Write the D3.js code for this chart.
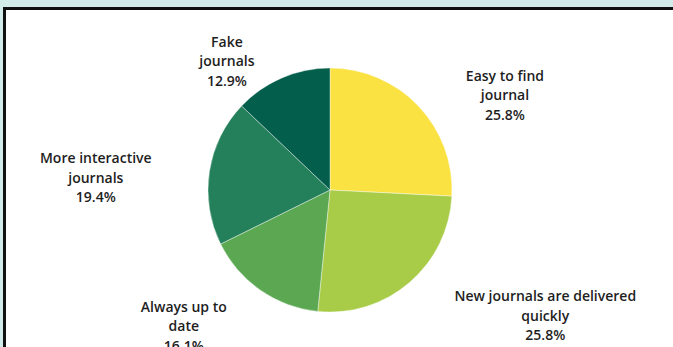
<!DOCTYPE html>
<html>
<head>
<meta charset="utf-8">
<script src="https://cdn.jsdelivr.net/npm/d3@7"></script>
<style>
  html, body { margin: 0; padding: 0; background: #d2ecea; }
  svg { display: block; }
</style>
</head>
<body>
<svg id="chart" width="673" height="347"></svg>
<script>
// Survey answers: what readers value in a journal service
const categories = [
  ["Easy to find", "journal"],
  ["New journals are delivered", "quickly"],
  ["Always up to", "date"],
  ["More interactive", "journals"],
  ["Fake", "journals"]
];
const values = [25.8, 25.8, 16.1, 19.4, 12.9];
const colors = ["#fae243", "#a8cc48", "#5ca852", "#23805a", "#035e4b"];

const svg = d3.select("#chart");
const W = 673, H = 347;

// panel with dark frame
svg.append("rect").attr("width", W).attr("height", H).attr("fill", "#d2ecea");
svg.append("rect")
  .attr("x", 4.5).attr("y", 8.5)
  .attr("width", W + 20).attr("height", H + 20)
  .attr("fill", "#ffffff")
  .attr("stroke", "#111111").attr("stroke-width", 3);

const cx = 330, cy = 190, radius = 122;
const g = svg.append("g").attr("transform", `translate(${cx},${cy})`);

const data = categories.map((c, i) => ({ label: c, value: values[i], color: colors[i] }));
const pie = d3.pie().value(d => d.value).sort(null);
const arcs = pie(data);
const arc = d3.arc().innerRadius(0).outerRadius(radius);

g.selectAll("path.slice")
  .data(arcs)
  .join("path")
  .attr("class", "slice")
  .attr("d", arc)
  .attr("fill", d => d.data.color)
  .attr("stroke", "#ffffff")
  .attr("stroke-width", 0.4);

// labels sit outside the pie, pushed away from the slice's mid-angle
const labelArc = d3.arc().innerRadius(160).outerRadius(160);
const nudges = [[59, 1], [111, -10], [-55, -9.5], [-76, -2.5], [-40, 4]];
const lineH = 19.5;

const labels = g.selectAll("text.lbl")
  .data(arcs)
  .join("text")
  .attr("class", "lbl")
  .attr("text-anchor", "middle")
  .attr("font-family", "'Open Sans', sans-serif")
  .attr("font-weight", 600)
  .attr("font-size", 14)
  .attr("fill", "#1e1e1e")
  .attr("transform", (d, i) => {
    const [x, y] = labelArc.centroid(d);
    return `translate(${x + nudges[i][0]},${y + nudges[i][1]})`;
  });

labels.each(function(d) {
  const t = d3.select(this);
  const lines = d.data.label.concat([d3.format(".1f")(d.data.value) + "%"]);
  lines.forEach((ln, k) => {
    t.append("tspan").attr("x", 0).attr("y", k * lineH).text(ln);
  });
});
</script>
</body>
</html>
